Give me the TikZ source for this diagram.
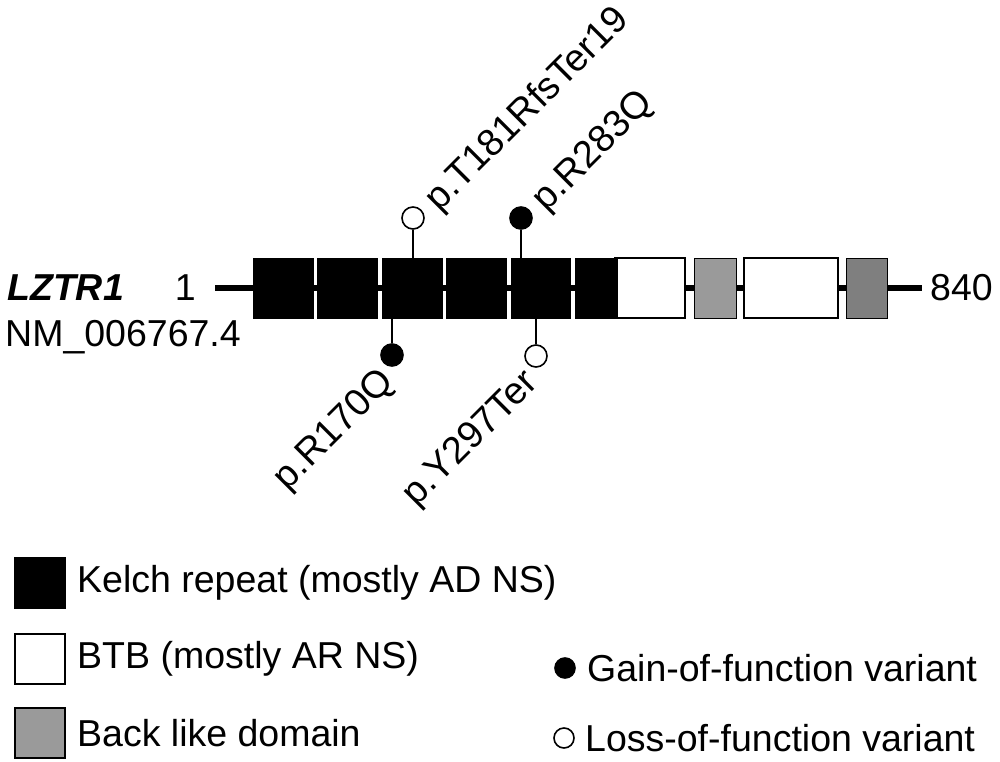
\documentclass[tikz,border=0pt]{standalone}
\usepackage{fontspec}
\setmainfont{Liberation Sans}
\usepackage{tikz}
\definecolor{backgray}{HTML}{9A9A9A}
\definecolor{darkgray}{HTML}{7F7F7F}
\tikzset{
	every domain/.style={
		rectangle,
		draw=black,
		minimum height=60pt,
		inner sep=0pt
	},
	kelch/.style={every domain, fill=black, line width=0.8pt},
	btb/.style={every domain, fill=white, line width=1.6pt},
	backlike/.style={every domain, fill=backgray, line width=1pt},
	backdark/.style={every domain, fill=darkgray, line width=1pt},
	gof/.style={circle, draw, fill=black, line width=1.6pt, minimum size=22pt, inner sep=0pt},
	lof/.style={circle, draw, fill=white, line width=1.6pt, minimum size=22pt, inner sep=0pt},
	stem/.style={line width=1.8pt},
	variant/.style={rotate=45, inner sep=0pt, font=\fontsize{38}{46}\selectfont},
	legend box/.style={rectangle, draw=black, line width=1.2pt, minimum size=50pt, inner sep=0pt},
	legend text/.style={anchor=west, inner sep=0pt},
}
\begin{document}
\begin{tikzpicture}[x=1pt, y=-1pt, font=\fontsize{37.5}{45}\selectfont]
\useasboundingbox (0,0) rectangle (1000,762);

% protein backbone
\coordinate (start) at (215,288);
\coordinate (end) at (922,288);
\draw [line width=6pt] (start) -- (end);

\node [btb, minimum width=70pt] (btb-1) at (650,288) {};
\foreach \x/\w [count=\i] in {283/60, 347/60, 412/60, 476/60, 540.5/59, 596/42}
	\node [kelch, minimum width=\w pt] (kelch-\i) at (\x,288) {};
\node [backlike, minimum width=42pt] (back-1) at (715,288) {};
\node [btb, minimum width=94pt] (btb-2) at (791,288) {};
\node [backdark, minimum width=41pt] (back-2) at (866.5,288) {};

\node [anchor=base west, inner sep=0pt] (gene) at (7,300) {\bfseries\itshape LZTR1};
\node [anchor=base west, inner sep=0pt] (transcript) at (5,346) {NM\_006767.4};
\node [anchor=base east, inner sep=0pt] (first) at (196,300) {1};
\node [anchor=base west, inner sep=0pt] (last) at (930,300) {840};

% variants above
\node [lof] (t181) at (413,218) {};
\node [gof] (r283) at (521,218) {};
\draw [stem] (t181) -- (t181 |- kelch-3.north);
\draw [stem] (r283) -- (r283 |- kelch-5.north);
\node [variant, anchor=west] (t181-label) at ([shift={(19,-12)}]t181) {p.T181RfsTer19};
\node [variant, anchor=west] (r283-label) at ([shift={(19,-12)}]r283) {p.R283Q};

% variants below
\node [gof] (r170) at (392,355) {};
\node [lof] (y297) at (536,356) {};
\draw [stem] (r170) -- (r170 |- kelch-3.south);
\draw [stem] (y297) -- (y297 |- kelch-5.south);
\node [variant, anchor=east] (r170-label) at ([shift={(-3,22)}]r170) {p.R170Q};
\node [variant, anchor=east] (y297-label) at ([shift={(-3,22)}]y297) {p.Y297Ter};

% legend
\foreach \s/\t/\y [count=\i] in {black/Kelch repeat (mostly AD NS)/583, white/BTB (mostly AR NS)/659, backgray/Back like domain/733}
{
	\node [legend box, fill=\s] (key-\i) at (40,\y) {};
	\node [legend text] (key-text-\i) at (77,\y) {\t};
}

\node [gof, minimum size=20pt] (key-gof) at (565,668) {};
\node [legend text] (key-gof-text) at (587,668) {Gain-of-function variant};
\node [lof, minimum size=20pt] (key-lof) at (564,738) {};
\node [legend text] (key-lof-text) at (585,738) {Loss-of-function variant};

\end{tikzpicture}
\end{document}
